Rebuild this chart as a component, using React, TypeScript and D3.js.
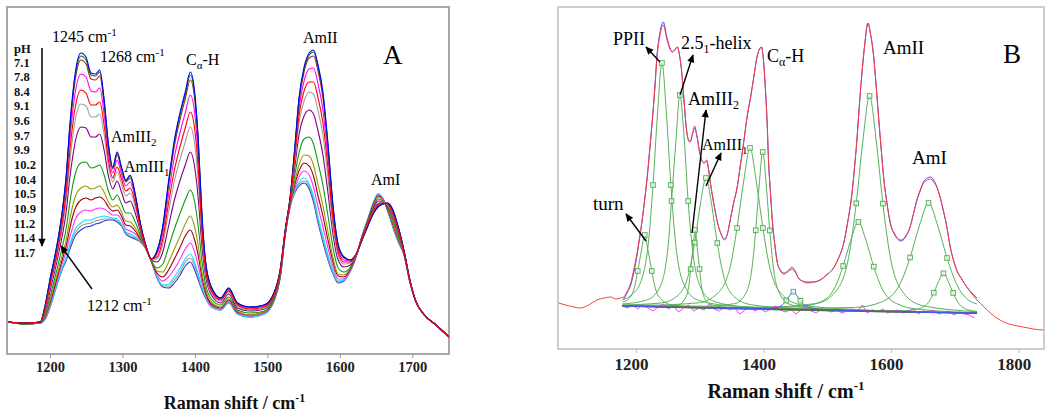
import React from "react";
import * as d3 from "d3";

// ---------- Panel A data (intensity in a.u.) ----------
const pHLabels = ["7.1", "7.8", "8.4", "9.1", "9.6", "9.7", "9.9", "10.2", "10.4", "10.5", "10.9", "11.2", "11.4", "11.7"];
const pHColors = ["#0000ff", "#007a00", "#a52a2a", "#ff00ff", "#ff0000", "#a0a0a0", "#800080", "#119911", "#999900", "#990000", "#ff33ff", "#00e5ff", "#9a9a9a", "#3333cc"];

const wavenumbersA = [1142, 1165, 1186, 1193, 1200, 1206, 1212, 1217, 1222, 1226, 1230, 1235, 1242, 1249, 1256, 1262, 1268, 1274, 1280, 1286, 1292, 1298, 1304, 1310, 1317, 1324, 1331, 1339, 1347, 1355, 1363, 1371, 1379, 1386, 1393, 1399, 1404, 1409, 1414, 1422, 1435, 1446, 1458, 1475, 1495, 1509, 1517, 1524, 1531, 1537, 1543, 1550, 1557, 1563, 1569, 1576, 1583, 1590, 1597, 1605, 1614, 1622, 1630, 1638, 1646, 1652, 1659, 1665, 1672, 1680, 1688, 1696, 1704, 1716, 1732, 1750];

const spec_pH71 = [32, 31, 32, 50, 77, 98, 122, 147, 181, 222, 255, 285, 301, 297, 281, 280, 284, 255, 210, 187, 202, 187, 174, 179, 160, 131, 110, 95, 103, 128, 173, 214, 242, 262, 282, 262, 214, 140, 93, 67, 56, 66, 51, 47, 49, 62, 84, 124, 158, 205, 256, 287, 301, 304, 290, 262, 210, 148, 110, 97, 94, 100, 114, 128, 141, 147, 150, 151, 145, 127, 103, 74, 53, 39, 29, 17];
const spec_pH78 = [32, 31, 32, 50, 77, 97, 121, 146, 180, 220, 253, 282, 298, 294, 279, 278, 282, 253, 209, 186, 201, 186, 173, 178, 159, 131, 110, 95, 103, 127, 171, 212, 240, 259, 279, 259, 212, 139, 92, 67, 56, 66, 51, 47, 49, 62, 84, 124, 158, 204, 255, 285, 299, 302, 288, 260, 208, 147, 109, 97, 94, 100, 114, 128, 141, 147, 150, 151, 145, 127, 103, 74, 53, 39, 29, 17];
const spec_pH84 = [32, 31, 32, 49, 76, 97, 120, 145, 178, 217, 249, 278, 294, 290, 275, 274, 278, 250, 207, 185, 199, 185, 172, 176, 158, 130, 110, 95, 102, 126, 169, 208, 235, 255, 274, 255, 208, 137, 92, 66, 56, 65, 51, 47, 49, 62, 84, 124, 158, 203, 252, 282, 296, 298, 284, 256, 205, 145, 108, 96, 94, 100, 114, 128, 141, 148, 150, 151, 144, 126, 103, 74, 53, 39, 29, 17];
const spec_pH91 = [32, 31, 32, 48, 74, 94, 117, 140, 171, 208, 238, 265, 280, 277, 263, 262, 266, 240, 201, 181, 194, 180, 168, 172, 155, 129, 110, 95, 100, 121, 160, 197, 222, 241, 259, 241, 197, 131, 89, 65, 55, 64, 50, 46, 48, 61, 83, 123, 157, 200, 245, 273, 285, 286, 271, 244, 196, 140, 105, 94, 93, 100, 115, 129, 142, 149, 151, 150, 143, 125, 103, 74, 53, 39, 29, 17];
const spec_pH96 = [32, 31, 32, 47, 71, 90, 112, 134, 163, 197, 225, 250, 264, 261, 249, 249, 252, 229, 194, 176, 187, 175, 163, 166, 151, 127, 109, 95, 97, 115, 151, 184, 208, 226, 242, 225, 185, 124, 85, 63, 54, 63, 49, 45, 47, 60, 82, 123, 156, 196, 238, 263, 272, 272, 257, 231, 186, 134, 102, 92, 92, 100, 115, 130, 143, 150, 151, 150, 141, 124, 102, 74, 53, 39, 29, 17];
const spec_pH97 = [32, 31, 32, 46, 69, 88, 109, 129, 156, 187, 213, 237, 250, 248, 237, 237, 240, 220, 188, 172, 182, 170, 158, 161, 147, 126, 109, 94, 95, 110, 142, 173, 195, 212, 227, 210, 173, 118, 82, 61, 53, 62, 48, 44, 46, 60, 82, 123, 155, 192, 231, 253, 262, 260, 244, 219, 176, 128, 99, 90, 91, 99, 115, 130, 144, 151, 152, 149, 140, 123, 102, 73, 53, 39, 29, 17];
const spec_pH99 = [32, 31, 32, 44, 65, 83, 103, 121, 144, 172, 194, 215, 227, 226, 217, 217, 220, 204, 178, 165, 173, 162, 151, 153, 141, 123, 108, 94, 92, 102, 128, 154, 174, 189, 202, 187, 155, 108, 78, 59, 51, 60, 46, 43, 45, 59, 81, 122, 154, 186, 219, 238, 244, 240, 224, 199, 161, 119, 94, 87, 89, 99, 116, 131, 146, 153, 152, 148, 138, 121, 101, 73, 53, 39, 29, 17];
const spec_pH102 = [32, 30, 31, 41, 59, 76, 94, 109, 127, 148, 166, 182, 191, 192, 186, 187, 189, 179, 163, 154, 159, 150, 141, 141, 132, 119, 108, 94, 86, 90, 107, 125, 141, 154, 164, 152, 127, 93, 70, 55, 49, 57, 44, 41, 43, 57, 79, 121, 152, 178, 201, 215, 217, 210, 192, 169, 138, 106, 86, 82, 87, 99, 117, 132, 148, 155, 153, 147, 135, 118, 101, 73, 53, 39, 29, 17];
const spec_pH104 = [32, 30, 31, 39, 55, 71, 87, 101, 115, 132, 146, 159, 166, 168, 165, 166, 168, 162, 152, 147, 149, 142, 133, 132, 126, 117, 107, 94, 83, 82, 92, 105, 118, 130, 138, 127, 108, 82, 65, 52, 47, 55, 43, 39, 42, 56, 78, 120, 150, 172, 189, 199, 198, 189, 170, 148, 122, 96, 80, 79, 86, 99, 117, 133, 149, 157, 154, 146, 132, 116, 100, 73, 53, 39, 29, 17];
const spec_pH105 = [32, 30, 31, 38, 53, 68, 84, 96, 109, 123, 136, 147, 154, 156, 154, 156, 157, 154, 147, 143, 144, 138, 129, 128, 123, 115, 107, 93, 81, 77, 84, 95, 107, 118, 124, 114, 98, 77, 62, 50, 46, 54, 42, 39, 42, 55, 77, 120, 150, 169, 183, 191, 188, 178, 159, 138, 114, 92, 78, 77, 85, 98, 117, 134, 150, 158, 154, 145, 131, 115, 100, 72, 53, 39, 29, 17];
const spec_pH109 = [32, 30, 31, 37, 51, 66, 81, 92, 103, 115, 125, 136, 142, 144, 143, 145, 146, 145, 142, 139, 139, 134, 125, 123, 120, 114, 106, 93, 79, 73, 77, 85, 95, 105, 111, 102, 88, 72, 60, 49, 45, 53, 41, 38, 41, 55, 77, 120, 149, 165, 177, 183, 179, 167, 148, 127, 106, 87, 75, 75, 84, 98, 118, 134, 151, 159, 155, 145, 130, 114, 99, 72, 53, 39, 29, 17];
const spec_pH112 = [32, 30, 31, 36, 49, 63, 78, 88, 97, 108, 117, 126, 131, 134, 134, 136, 137, 138, 137, 136, 135, 130, 122, 120, 117, 113, 106, 93, 77, 69, 70, 77, 86, 95, 100, 91, 80, 67, 58, 48, 44, 52, 40, 37, 40, 54, 76, 119, 148, 163, 172, 176, 170, 158, 138, 118, 99, 83, 73, 74, 83, 98, 118, 135, 152, 160, 155, 144, 129, 113, 99, 72, 53, 39, 29, 17];
const spec_pH114 = [32, 30, 31, 35, 49, 63, 77, 87, 96, 105, 114, 122, 128, 130, 131, 133, 134, 135, 135, 135, 133, 129, 121, 118, 116, 112, 106, 93, 77, 68, 68, 74, 82, 92, 96, 88, 77, 66, 57, 47, 44, 51, 40, 37, 40, 54, 76, 119, 148, 162, 170, 173, 168, 155, 135, 115, 96, 81, 72, 74, 83, 98, 118, 135, 152, 160, 155, 144, 128, 112, 99, 72, 53, 39, 29, 17];
const spec_pH117 = [32, 30, 31, 35, 48, 62, 76, 86, 94, 103, 111, 119, 124, 127, 128, 130, 131, 133, 134, 134, 132, 128, 120, 117, 115, 112, 106, 93, 76, 67, 66, 71, 79, 88, 92, 84, 74, 64, 56, 47, 44, 51, 40, 37, 40, 54, 76, 119, 148, 161, 168, 171, 165, 152, 132, 112, 94, 80, 71, 73, 83, 98, 118, 135, 152, 160, 155, 144, 128, 112, 99, 72, 53, 39, 29, 17];

const spectraA = [spec_pH71, spec_pH78, spec_pH84, spec_pH91, spec_pH96, spec_pH97, spec_pH99, spec_pH102, spec_pH104, spec_pH105, spec_pH109, spec_pH112, spec_pH114, spec_pH117];
const ticksA = [1200, 1300, 1400, 1500, 1600, 1700];

// ---------- Panel B data ----------
const ticksB = [1200, 1400, 1600, 1800];

const experimentalB: [number, number][] = [
  [1078, 46], [1095, 43], [1112, 41], [1125, 44], [1138, 49], [1150, 51], [1159, 52], [1168, 50], [1175, 51], [1180, 52],
  [1185, 57], [1191, 66], [1196, 80], [1201, 96], [1205, 112], [1209, 129], [1213, 150], [1217, 172], [1221, 200], [1225, 229],
  [1229, 262], [1232, 290], [1237, 314], [1242, 324], [1248, 309], [1252, 301], [1256, 297], [1260, 299], [1264, 302], [1268, 292],
  [1272, 270], [1275, 245], [1278, 222], [1281, 210], [1284, 207], [1288, 216], [1291, 223], [1295, 213], [1299, 197], [1303, 188],
  [1306, 186], [1310, 189], [1313, 180], [1316, 166], [1320, 150], [1324, 136], [1328, 124], [1332, 116], [1338, 109], [1343, 116],
  [1347, 129], [1352, 145], [1358, 162], [1363, 184], [1368, 206], [1373, 230], [1379, 252], [1384, 272], [1389, 292], [1393, 300],
  [1396, 302], [1399, 290], [1402, 262], [1405, 225], [1407, 189], [1410, 158], [1413, 129], [1417, 104], [1421, 86], [1426, 79],
  [1431, 76], [1437, 78], [1444, 82], [1449, 78], [1454, 71], [1460, 68], [1467, 66], [1478, 67], [1488, 69], [1498, 74],
  [1509, 81], [1517, 91], [1525, 106], [1531, 126], [1538, 156], [1542, 182], [1546, 212], [1550, 248], [1554, 279], [1558, 305],
  [1563, 326], [1567, 315], [1572, 292], [1576, 262], [1580, 229], [1584, 198], [1588, 169], [1593, 145], [1598, 126], [1605, 115],
  [1615, 109], [1622, 113], [1629, 122], [1635, 137], [1640, 149], [1645, 158], [1650, 166], [1656, 169], [1661, 170], [1666, 167],
  [1671, 162], [1676, 152], [1681, 139], [1687, 121], [1692, 102], [1697, 89], [1702, 79], [1710, 70], [1718, 62], [1726, 55],
  [1734, 49], [1745, 42], [1755, 36], [1765, 31], [1776, 27], [1790, 24], [1807, 22], [1822, 20], [1838, 19],
];

const fitB: [number, number][] = [
  [1180, 50], [1186, 57], [1191, 64], [1196, 77], [1201, 94], [1205, 111], [1209, 129], [1213, 150], [1217, 173], [1221, 201],
  [1225, 230], [1229, 263], [1232, 292], [1237, 317], [1242, 327], [1248, 311], [1252, 302], [1256, 297], [1260, 299], [1264, 302],
  [1268, 292], [1272, 270], [1275, 245], [1278, 222], [1281, 210], [1284, 207], [1288, 215], [1291, 221], [1295, 212], [1299, 197],
  [1303, 188], [1306, 186], [1310, 188], [1313, 180], [1316, 166], [1320, 150], [1324, 136], [1328, 124], [1332, 116], [1338, 110],
  [1343, 116], [1347, 129], [1352, 145], [1358, 162], [1363, 184], [1368, 206], [1373, 230], [1379, 252], [1384, 272], [1389, 292],
  [1393, 300], [1396, 302], [1399, 290], [1402, 262], [1405, 225], [1407, 189], [1410, 158], [1413, 129], [1417, 104], [1421, 86],
  [1426, 78], [1431, 75], [1437, 77], [1444, 80], [1449, 77], [1454, 71], [1460, 68], [1467, 67], [1478, 67], [1488, 69],
  [1498, 74], [1509, 81], [1517, 91], [1525, 106], [1531, 126], [1538, 156], [1542, 182], [1546, 212], [1550, 248], [1554, 279],
  [1558, 305], [1563, 326], [1567, 315], [1572, 292], [1576, 262], [1580, 229], [1584, 198], [1588, 169], [1593, 145], [1598, 126],
  [1605, 114], [1615, 108], [1622, 112], [1629, 122], [1635, 137], [1640, 150], [1645, 159], [1650, 167], [1656, 171], [1661, 172],
  [1666, 169], [1671, 162], [1676, 152], [1681, 139], [1687, 121], [1692, 102], [1697, 89], [1702, 79], [1710, 70], [1718, 62],
  [1726, 56], [1734, 51],
];

const baselineB: [number, number][] = [[1178, 43], [1734, 35.7]];

const residualB: [number, number][] = [
  [1178, 43], [1186, 41], [1194, 44], [1202, 40], [1210, 45], [1218, 41], [1226, 38], [1234, 42], [1242, 45], [1250, 40],
  [1258, 43], [1266, 37], [1274, 41], [1282, 44], [1290, 38], [1298, 41], [1306, 39], [1314, 45], [1322, 40], [1330, 38],
  [1338, 42], [1346, 39], [1354, 41], [1362, 35], [1370, 39], [1378, 42], [1386, 38], [1394, 41], [1402, 37], [1410, 40],
  [1418, 43], [1426, 39], [1434, 37], [1442, 40], [1450, 35], [1458, 39], [1466, 41], [1474, 38], [1482, 36], [1490, 40],
  [1498, 39], [1506, 37], [1514, 39], [1522, 36], [1530, 38], [1538, 40], [1546, 37], [1554, 44], [1562, 36], [1570, 39],
  [1578, 37], [1586, 40], [1594, 36], [1602, 38], [1610, 39], [1618, 36], [1626, 38], [1634, 40], [1642, 35], [1650, 38],
  [1658, 37], [1666, 39], [1674, 35], [1682, 37], [1690, 38], [1698, 34], [1706, 37], [1714, 35], [1722, 34], [1730, 31],
];

const compTurn: [number, number][] = [[1178, 47], [1186, 49], [1197, 62], [1202, 78], [1208, 99], [1213, 114], [1218, 99], [1224, 78], [1229, 62], [1240, 49], [1256, 44], [1299, 42], [1734, 36]];
const compPPII: [number, number][] = [[1178, 49], [1192, 54], [1205, 64.5], [1219, 108], [1226, 164], [1233, 235], [1240, 286], [1247, 235], [1254, 164], [1261, 108], [1275, 64], [1296, 49], [1351, 43], [1462, 40], [1734, 36]];
const compHelix: [number, number][] = [[1178, 45], [1216, 49], [1236, 61], [1249, 99], [1255, 148], [1262, 209], [1268, 254], [1275, 209], [1281, 148], [1288, 99], [1301, 61], [1320, 48], [1372, 42], [1476, 39.5], [1734, 36]];
const compAmIII2: [number, number][] = [[1178, 43], [1238, 43], [1265, 44], [1275, 49], [1282, 62.5], [1285, 80], [1289, 103], [1292, 119], [1295, 103], [1299, 80], [1302, 62], [1309, 48.5], [1319, 44], [1346, 41.4], [1734, 36]];
const compAmIII1: [number, number][] = [[1178, 44], [1238, 46], [1265, 53.6], [1282.5, 76.7], [1291.3, 106.5], [1300, 144], [1309, 171], [1318, 144], [1326.7, 106], [1335.6, 76], [1353, 52.4], [1380, 44.3], [1451, 40.4], [1592, 38], [1734, 36]];
const compCaH1: [number, number][] = [[1178, 43.8], [1216, 43.8], [1297, 46.2], [1327, 55.5], [1347.6, 84], [1357.7, 121], [1368, 167], [1378, 201], [1388, 167], [1398.3, 121], [1408.5, 83], [1429, 54], [1459, 44], [1540, 39.6], [1734, 36]];
const compCaH2: [number, number][] = [[1178, 43], [1310, 42.8], [1354, 45.4], [1370.5, 54.6], [1381.5, 82.7], [1387, 118.7], [1392.5, 164], [1398, 197], [1403.5, 164], [1409, 118.5], [1414.5, 82.4], [1425.5, 54.2], [1442, 44.2], [1486, 40.3], [1734, 36]];
const compCH: [number, number][] = [[1178, 43], [1402, 40.5], [1418.5, 41.4], [1429.5, 44.5], [1435, 48.5], [1440.5, 53.7], [1446, 57.3], [1451.5, 53.5], [1457, 48.3], [1462.5, 44.3], [1473.5, 41.2], [1490, 39.5], [1734, 36]];
const compAmII1: [number, number][] = [[1178, 43.2], [1356, 41.4], [1452, 42.1], [1488, 46.9], [1512, 62.6], [1524, 83], [1536, 108.6], [1548, 127], [1560, 108.3], [1572, 82.4], [1584, 61.8], [1608, 45.4], [1644, 39.6], [1734, 36.4]];
const compAmII2: [number, number][] = [[1178, 43.4], [1398, 41.8], [1482, 45.5], [1513, 58], [1534, 96.3], [1544.6, 145.7], [1555, 208], [1565.5, 253], [1576, 208], [1586.4, 145.4], [1597, 95.5], [1618, 56.6], [1649, 43.3], [1734, 37.4]];
const compAmI1: [number, number][] = [[1178, 43.2], [1426, 40.6], [1542, 41.5], [1585.5, 47.4], [1614.5, 66.6], [1629, 91.5], [1643.5, 123], [1658, 146], [1672.5, 123], [1687, 91], [1701.5, 65.5], [1730.5, 45.6], [1734, 45]];
const compAmI2: [number, number][] = [[1178, 43], [1560, 38.3], [1620.6, 38.4], [1643.4, 40.4], [1658.6, 47.3], [1666.2, 56.3], [1673.8, 67.5], [1681.4, 75.7], [1689, 67.4], [1696.6, 56.1], [1704.2, 46.7], [1719.4, 39.4], [1734, 37.5]];

const greenComponents = [compTurn, compPPII, compHelix, compAmIII2, compAmIII1, compCaH1, compCaH2, compAmII1, compAmII2, compAmI1, compAmI2];

const componentMarkers: [number, number][] = [
  [1202, 78], [1213, 114], [1224, 78],
  [1226, 164], [1240, 286], [1254, 164],
  [1255, 148], [1268, 254], [1281, 148],
  [1285, 80], [1292, 119], [1299, 80],
  [1291.3, 106.5], [1309, 171], [1326.7, 106],
  [1357.7, 121], [1378, 201], [1398.3, 121],
  [1387, 118.7], [1398, 197], [1409, 118.5],
  [1435, 48.5], [1446, 57.3], [1457, 48.3],
  [1524, 83], [1548, 127], [1572, 82.4],
  [1544.6, 145.7], [1565.5, 253], [1586.4, 145.4],
  [1629, 91.5], [1658, 146], [1687, 91],
  [1666.2, 56.3], [1681.4, 75.7], [1696.6, 56.1],
];

// ---------- Layout ----------
const W = 1050;
const H = 417;
const fA = { left: 7, right: 449, top: 7, bottom: 354 };
const fB = { left: 558, right: 1044, top: 7, bottom: 349 };

const xA = d3.scaleLinear().domain([1140, 1750]).range([fA.left, fA.right]);
const yA = d3.scaleLinear().domain([0, 347]).range([fA.bottom, fA.top]);
const xB = d3.scaleLinear().domain([1077, 1839]).range([fB.left, fB.right]);
const yB = d3.scaleLinear().domain([0, 342]).range([fB.bottom, fB.top]);

const serif = "'Liberation Serif', 'Times New Roman', Times, serif";
const green = "#58b058";

const lineA = d3
  .line<number>()
  .x((_, i) => xA(wavenumbersA[i]))
  .y((d) => yA(d))
  .curve(d3.curveMonotoneX);

const lineB = d3
  .line<[number, number]>()
  .x((d) => xB(d[0]))
  .y((d) => yB(d[1]))
  .curve(d3.curveMonotoneX);

const lineBLinear = d3
  .line<[number, number]>()
  .x((d) => xB(d[0]))
  .y((d) => yB(d[1]));

function Arrow({ x1, y1, x2, y2, w = 1.4 }: { x1: number; y1: number; x2: number; y2: number; w?: number }) {
  return <line x1={x1} y1={y1} x2={x2} y2={y2} stroke="#000" strokeWidth={w} markerEnd="url(#arrowHead)" />;
}

export default function App() {
  const drawOrder = [13, 12, 11, 10, 9, 8, 7, 6, 5, 3, 2, 1, 0, 4];
  return (
    <svg
      width={W}
      height={H}
      viewBox={`0 0 ${W} ${H}`}
      style={{ position: "absolute", left: 0, top: 0, background: "#fff" }}
      fontFamily={serif}
    >
      <defs>
        <marker id="arrowHead" viewBox="0 0 10 10" refX="9" refY="5" markerUnits="userSpaceOnUse" markerWidth="9" markerHeight="8" orient="auto">
          <path d="M0,0.5 L10,5 L0,9.5 z" fill="#000" />
        </marker>
        <clipPath id="clipA">
          <rect x={fA.left} y={fA.top} width={fA.right - fA.left} height={fA.bottom - fA.top} />
        </clipPath>
        <clipPath id="clipB">
          <rect x={fB.left} y={fB.top} width={fB.right - fB.left} height={fB.bottom - fB.top} />
        </clipPath>
      </defs>
      <rect x={0} y={0} width={W} height={H} fill="#fff" />

      {/* ================= Panel A ================= */}
      <rect x={fA.left} y={fA.top} width={fA.right - fA.left} height={fA.bottom - fA.top} fill="#fff" stroke="#a8a8a8" strokeWidth={2} />
      <g clipPath="url(#clipA)">
        {drawOrder.map((k) => (
          <path key={k} d={lineA(spectraA[k]) || ""} fill="none" stroke={pHColors[k]} strokeWidth={1.1} />
        ))}
      </g>
      {ticksA.map((t) => (
        <g key={t}>
          <line x1={xA(t)} x2={xA(t)} y1={fA.bottom} y2={fA.bottom + 4} stroke="#999" strokeWidth={1} />
          <text x={xA(t)} y={371.5} textAnchor="middle" fontSize={14.5} fontWeight="bold" fill="#222">
            {t}
          </text>
        </g>
      ))}
      <text x={234.5} y={409} textAnchor="middle" fontSize={18} fontWeight="bold" fill="#111">
        Raman shift / cm<tspan dy={-7} fontSize={12}>-1</tspan>
      </text>

      {/* pH legend */}
      <text x={14} y={52.5} fontSize={12.5} fontWeight="bold" fill="#111">pH</text>
      {pHLabels.map((p, i) => (
        <text key={p} x={14} y={66.5 + i * 14.65} fontSize={12.5} fontWeight="bold" fill="#111">
          {p}
        </text>
      ))}
      <Arrow x1={42} y1={48} x2={42} y2={246} w={1.5} />

      {/* Panel A annotations */}
      <text x={52} y={41.5} fontSize={16}>
        1245 cm<tspan dy={-6} fontSize={11}>-1</tspan>
      </text>
      <text x={100} y={61.5} fontSize={16}>
        1268 cm<tspan dy={-6} fontSize={11}>-1</tspan>
      </text>
      <text x={186} y={65} fontSize={16}>
        C<tspan dy={4} fontSize={11}>α</tspan>
        <tspan dy={-4}>-H</tspan>
      </text>
      <text x={111} y={142} fontSize={16}>
        AmIII<tspan dy={4} fontSize={11}>2</tspan>
      </text>
      <text x={124} y={172} fontSize={16}>
        AmIII<tspan dy={4} fontSize={11}>1</tspan>
      </text>
      <text x={303} y={43} fontSize={16}>AmII</text>
      <text x={371} y={185} fontSize={16}>AmI</text>
      <text x={383} y={64} fontSize={27}>A</text>
      <text x={87} y={311} fontSize={16}>
        1212 cm<tspan dy={-6} fontSize={11}>-1</tspan>
      </text>
      <Arrow x1={92} y1={289} x2={61} y2={246} />

      {/* ================= Panel B ================= */}
      <rect x={fB.left} y={fB.top} width={fB.right - fB.left} height={fB.bottom - fB.top} fill="#fff" stroke="#cdcdcd" strokeWidth={2} />
      <g clipPath="url(#clipB)">
        {greenComponents.map((c, i) => (
          <path key={i} d={lineB(c) || ""} fill="none" stroke={green} strokeWidth={1} />
        ))}
        <path d={lineBLinear(residualB) || ""} fill="none" stroke="#ff33ff" strokeWidth={1} />
        <path d={lineBLinear(baselineB) || ""} fill="none" stroke="#556b2f" strokeWidth={1.6} />
        <path d={lineB(compCH) || ""} fill="none" stroke="#3a5cff" strokeWidth={1} />
        {componentMarkers.map((m, i) => (
          <rect key={i} x={xB(m[0]) - 2.3} y={yB(m[1]) - 2.3} width={4.6} height={4.6} fill="#fff" fillOpacity={0.6} stroke={green} strokeWidth={1} />
        ))}
        <path d={lineB(fitB) || ""} fill="none" stroke="#3a4cff" strokeWidth={1} />
        <path d={lineB(experimentalB) || ""} fill="none" stroke="#ff3b3b" strokeWidth={1} />
      </g>
      {ticksB.map((t) => (
        <g key={t}>
          <line x1={xB(t)} x2={xB(t)} y1={fB.bottom} y2={fB.bottom + 4} stroke="#bbb" strokeWidth={1} />
          <text x={xB(t) - 5} y={370} textAnchor="middle" fontSize={17} fontWeight="bold" fill="#222">
            {t}
          </text>
        </g>
      ))}
      <text x={786} y={398} textAnchor="middle" fontSize={20} fontWeight="bold" fill="#111">
        Raman shift / cm<tspan dy={-8} fontSize={13}>-1</tspan>
      </text>

      {/* Panel B annotations */}
      <text x={613} y={45} fontSize={18}>PPII</text>
      <Arrow x1={660} y1={62} x2={646} y2={47} />
      <text x={681} y={49} fontSize={18}>
        2.5<tspan dy={4} fontSize={12}>1</tspan>
        <tspan dy={-4}>-helix</tspan>
      </text>
      <Arrow x1={680} y1={95} x2={693} y2={55} />
      <text x={688} y={105} fontSize={18}>
        AmIII<tspan dy={4} fontSize={12}>2</tspan>
      </text>
      <Arrow x1={692} y1={233} x2={706} y2={110} />
      <text x={702} y={150} fontSize={16}>
        AmIII<tspan dy={4} fontSize={11}>1</tspan>
      </text>
      <Arrow x1={706} y1={186} x2={721} y2={153} />
      <text x={767} y={62} fontSize={18}>
        C<tspan dy={4} fontSize={12}>α</tspan>
        <tspan dy={-4}>-H</tspan>
      </text>
      <text x={883} y={54} fontSize={19}>AmII</text>
      <text x={912} y={164} fontSize={19}>AmI</text>
      <text x={1003} y={62.7} fontSize={27}>B</text>
      <text x={593} y={210} fontSize={19}>turn</text>
      <Arrow x1={646} y1={241} x2={626} y2={214} />
    </svg>
  );
}
